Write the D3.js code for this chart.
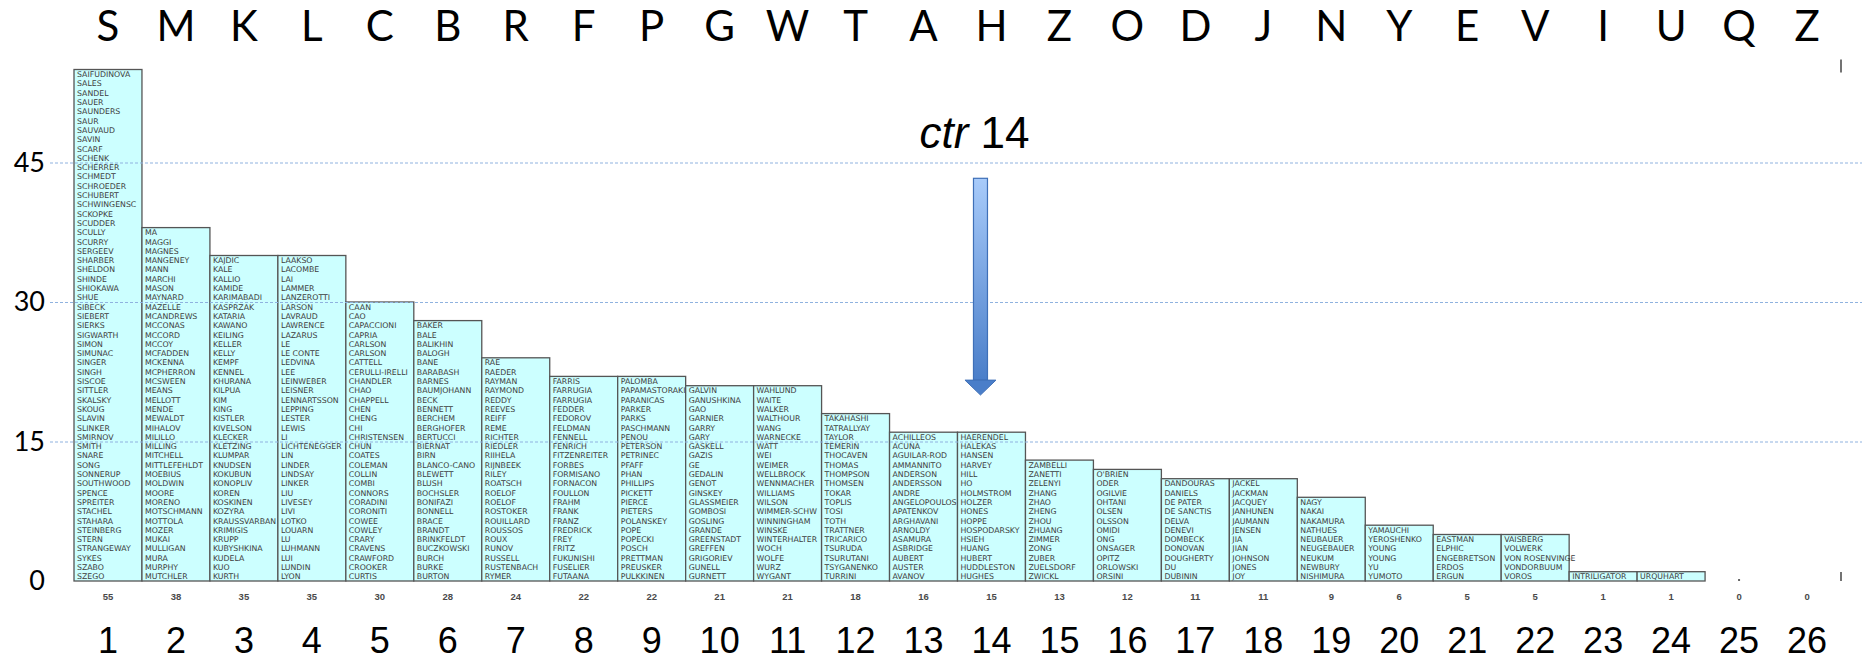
<!DOCTYPE html>
<html><head><meta charset="utf-8">
<script src="https://cdn.jsdelivr.net/npm/d3@7"></script>
<style>body{margin:0;background:#fff} svg{display:block}</style>
</head><body>
<svg id="chart" width="1862" height="660"></svg>
<script>
// ---------- data ----------
const letters = ["S","M","K","L","C","B","R","F","P","G","W","T","A","H","Z","O","D","J","N","Y","E","V","I","U","Q","Z"];
const positions = d3.range(1, 27);
const countLabels = [55,38,35,35,30,28,24,22,22,21,21,18,16,15,13,12,11,11,9,6,5,5,1,1,0,0];
const yTicks = [0, 15, 30, 45];

const namesS = ["SAIFUDINOVA","SALES","SANDEL","SAUER","SAUNDERS","SAUR","SAUVAUD","SAVIN","SCARF","SCHENK","SCHERRER","SCHMEDT","SCHROEDER","SCHUBERT","SCHWINGENSC","SCKOPKE","SCUDDER","SCULLY","SCURRY","SERGEEV","SHARBER","SHELDON","SHINDE","SHIOKAWA","SHUE","SIBECK","SIEBERT","SIERKS","SIGWARTH","SIMON","SIMUNAC","SINGER","SINGH","SISCOE","SITTLER","SKALSKY","SKOUG","SLAVIN","SLINKER","SMIRNOV","SMITH","SNARE","SONG","SONNERUP","SOUTHWOOD","SPENCE","SPREITER","STACHEL","STAHARA","STEINBERG","STERN","STRANGEWAY","SYKES","SZABO","SZEGO"];
const namesM = ["MA","MAGGI","MAGNES","MANGENEY","MANN","MARCHI","MASON","MAYNARD","MAZELLE","MCANDREWS","MCCONAS","MCCORD","MCCOY","MCFADDEN","MCKENNA","MCPHERRON","MCSWEEN","MEANS","MELLOTT","MENDE","MEWALDT","MIHALOV","MILILLO","MILLING","MITCHELL","MITTLEFEHLDT","MOEBIUS","MOLDWIN","MOORE","MORENO","MOTSCHMANN","MOTTOLA","MOZER","MUKAI","MULLIGAN","MURA","MURPHY","MUTCHLER"];
const namesK = ["KAJDIC","KALE","KALLIO","KAMIDE","KARIMABADI","KASPRZAK","KATARIA","KAWANO","KEILING","KELLER","KELLY","KEMPF","KENNEL","KHURANA","KILPUA","KIM","KING","KISTLER","KIVELSON","KLECKER","KLETZING","KLUMPAR","KNUDSEN","KOKUBUN","KONOPLIV","KOREN","KOSKINEN","KOZYRA","KRAUSSVARBAN","KRIMIGIS","KRUPP","KUBYSHKINA","KUDELA","KUO","KURTH"];
const namesL = ["LAAKSO","LACOMBE","LAI","LAMMER","LANZEROTTI","LARSON","LAVRAUD","LAWRENCE","LAZARUS","LE","LE CONTE","LEDVINA","LEE","LEINWEBER","LEISNER","LENNARTSSON","LEPPING","LESTER","LEWIS","LI","LICHTENEGGER","LIN","LINDER","LINDSAY","LINKER","LIU","LIVESEY","LIVI","LOTKO","LOUARN","LU","LUHMANN","LUI","LUNDIN","LYON"];
const namesC = ["CAAN","CAO","CAPACCIONI","CAPRIA","CARLSON","CARLSON","CATTELL","CERULLI-IRELLI","CHANDLER","CHAO","CHAPPELL","CHEN","CHENG","CHI","CHRISTENSEN","CHUN","COATES","COLEMAN","COLLIN","COMBI","CONNORS","CORADINI","CORONITI","COWEE","COWLEY","CRARY","CRAVENS","CRAWFORD","CROOKER","CURTIS"];
const namesB = ["BAKER","BALE","BALIKHIN","BALOGH","BANE","BARABASH","BARNES","BAUMJOHANN","BECK","BENNETT","BERCHEM","BERGHOFER","BERTUCCI","BIERNAT","BIRN","BLANCO-CANO","BLEWETT","BLUSH","BOCHSLER","BONIFAZI","BONNELL","BRACE","BRANDT","BRINKFELDT","BUCZKOWSKI","BURCH","BURKE","BURTON"];
const namesR = ["RAE","RAEDER","RAYMAN","RAYMOND","REDDY","REEVES","REIFF","REME","RICHTER","RIEDLER","RIIHELA","RIJNBEEK","RILEY","ROATSCH","ROELOF","ROELOF","ROSTOKER","ROUILLARD","ROUSSOS","ROUX","RUNOV","RUSSELL","RUSTENBACH","RYMER"];
const namesF = ["FARRIS","FARRUGIA","FARRUGIA","FEDDER","FEDOROV","FELDMAN","FENNELL","FENRICH","FITZENREITER","FORBES","FORMISANO","FORNACON","FOULLON","FRAHM","FRANK","FRANZ","FREDRICK","FREY","FRITZ","FUKUNISHI","FUSELIER","FUTAANA"];
const namesP = ["PALOMBA","PAPAMASTORAKI","PARANICAS","PARKER","PARKS","PASCHMANN","PENOU","PETERSON","PETRINEC","PFAFF","PHAN","PHILLIPS","PICKETT","PIERCE","PIETERS","POLANSKEY","POPE","POPECKI","POSCH","PRETTMAN","PREUSKER","PULKKINEN"];
const namesG = ["GALVIN","GANUSHKINA","GAO","GARNIER","GARRY","GARY","GASKELL","GAZIS","GE","GEDALIN","GENOT","GINSKEY","GLASSMEIER","GOMBOSI","GOSLING","GRANDE","GREENSTADT","GREFFEN","GRIGORIEV","GUNELL","GURNETT"];
const namesW = ["WAHLUND","WAITE","WALKER","WALTHOUR","WANG","WARNECKE","WATT","WEI","WEIMER","WELLBROCK","WENNMACHER","WILLIAMS","WILSON","WIMMER-SCHW","WINNINGHAM","WINSKE","WINTERHALTER","WOCH","WOLFE","WURZ","WYGANT"];
const namesT = ["TAKAHASHI","TATRALLYAY","TAYLOR","TEMERIN","THOCAVEN","THOMAS","THOMPSON","THOMSEN","TOKAR","TOPLIS","TOSI","TOTH","TRATTNER","TRICARICO","TSURUDA","TSURUTANI","TSYGANENKO","TURRINI"];
const namesA = ["ACHILLEOS","ACUNA","AGUILAR-ROD","AMMANNITO","ANDERSON","ANDERSSON","ANDRE","ANGELOPOULOS","APATENKOV","ARGHAVANI","ARNOLDY","ASAMURA","ASBRIDGE","AUBERT","AUSTER","AVANOV"];
const namesH = ["HAERENDEL","HALEKAS","HANSEN","HARVEY","HILL","HO","HOLMSTROM","HOLZER","HONES","HOPPE","HOSPODARSKY","HSIEH","HUANG","HUBERT","HUDDLESTON","HUGHES"];
const namesZ = ["ZAMBELLI","ZANETTI","ZELENYI","ZHANG","ZHAO","ZHENG","ZHOU","ZHUANG","ZIMMER","ZONG","ZUBER","ZUELSDORF","ZWICKL"];
const namesO = ["O'BRIEN","ODER","OGILVIE","OHTANI","OLSEN","OLSSON","OMIDI","ONG","ONSAGER","OPITZ","ORLOWSKI","ORSINI"];
const namesD = ["DANDOURAS","DANIELS","DE PATER","DE SANCTIS","DELVA","DENEVI","DOMBECK","DONOVAN","DOUGHERTY","DU","DUBININ"];
const namesJ = ["JACKEL","JACKMAN","JACQUEY","JANHUNEN","JAUMANN","JENSEN","JIA","JIAN","JOHNSON","JONES","JOY"];
const namesN = ["NAGY","NAKAI","NAKAMURA","NATHUES","NEUBAUER","NEUGEBAUER","NEUKUM","NEWBURY","NISHIMURA"];
const namesY = ["YAMAUCHI","YEROSHENKO","YOUNG","YOUNG","YU","YUMOTO"];
const namesE = ["EASTMAN","ELPHIC","ENGEBRETSON","ERDOS","ERGUN"];
const namesV = ["VAISBERG","VOLWERK","VON ROSENVINGE","VONDORBUUM","VOROS"];
const namesI = ["INTRILIGATOR"];
const namesU = ["URQUHART"];
const namesQ = [];
const namesX = [];

const annotationText = ["ctr", " 14"];
const arrowTarget = 14;   // column the arrow points at
const arrowTop = 43.3;    // value units
const arrowHeadStart = 21.6;
const arrowTip = 20;
const labelValue = 46.6;

// ---------- build ----------
const columns = [namesS,namesM,namesK,namesL,namesC,namesB,namesR,namesF,namesP,namesG,namesW,namesT,namesA,namesH,namesZ,namesO,namesD,namesJ,namesN,namesY,namesE,namesV,namesI,namesU,namesQ,namesX];
const table = positions.map((p, i) => ({pos: p, letter: letters[i], names: columns[i], n: columns[i].length, label: countLabels[i]}));

const svg = d3.select("#chart");
const x = d3.scaleBand().domain(positions).range([74, 1841]).padding(0);
const y = d3.scaleLinear().domain([0, 55]).range([581, 69.5]);
const bw = x.bandwidth();

// bars with names
const groups = svg.append("g").selectAll("g").data(table.filter(d => d.n > 0)).join("g");
groups.append("rect")
  .attr("x", d => x(d.pos)).attr("y", d => y(d.n))
  .attr("width", bw).attr("height", d => y(0) - y(d.n))
  .attr("fill", "#CCFFFF").attr("stroke", "#555").attr("stroke-width", 1.3);
groups.each(function(d) {
  d3.select(this).selectAll("text").data(d.names).join("text")
    .attr("x", x(d.pos) + 3)
    .attr("y", (nm, i) => (y(d.n - i) + y(d.n - i - 1)) / 2 + 0.5)
    .attr("dominant-baseline", "central")
    .attr("font-family", "DejaVu Sans, Verdana, sans-serif")
    .attr("font-size", 7.8)
    .attr("fill", "#3d3d3d")
    .text(nm => nm);
});

// gridlines (on top of bars)
const grid = svg.append("g").attr("transform", "translate(50,0)")
  .call(d3.axisLeft(y).tickValues(yTicks.filter(v => v > 0)).tickSize(-1812).tickFormat(""));
grid.select(".domain").remove();
grid.selectAll("line").attr("stroke", "#8fb2df").attr("stroke-width", 1).attr("stroke-dasharray", "3,2");

// y tick labels
const yAx = svg.append("g").attr("transform", "translate(45,0)")
  .call(d3.axisLeft(y).tickValues(yTicks).tickSize(0).tickPadding(0));
yAx.select(".domain").remove();
yAx.selectAll("text").attr("font-family", "Lato, 'Open Sans', sans-serif").attr("font-size", 27).attr("fill", "#000");

// top letters
const topAx = svg.append("g").attr("transform", "translate(0,41)")
  .call(d3.axisTop(x).tickSize(0).tickPadding(0).tickFormat((p, i) => letters[i]));
topAx.select(".domain").remove();
topAx.selectAll("text").attr("font-family", "Lato, 'Open Sans', sans-serif").attr("font-size", 42).attr("fill", "#000").attr("dy", 0);

// count labels
const cnt = svg.append("g").attr("transform", "translate(0,597)")
  .call(d3.axisBottom(x).tickSize(0).tickPadding(0).tickFormat((p, i) => countLabels[i]));
cnt.select(".domain").remove();
cnt.selectAll("text").attr("font-family", "Liberation Sans, Arial, sans-serif").attr("font-weight", "bold")
  .attr("font-size", 9.5).attr("fill", "#4a4a4a").attr("dy", "0.35em");

// bottom position numbers
const bot = svg.append("g").attr("transform", "translate(0,653)")
  .call(d3.axisBottom(x).tickSize(0).tickPadding(0));
bot.select(".domain").remove();
bot.selectAll("text").attr("font-family", "Liberation Sans, Arial, sans-serif").attr("font-size", 36).attr("fill", "#000").attr("dy", 0);

// right end ticks
const xEnd = x.range()[1];
svg.append("line").attr("x1", xEnd).attr("x2", xEnd)
  .attr("y1", y(0) - 9).attr("y2", y(0)).attr("stroke", "#444").attr("stroke-width", 1.5);
svg.append("line").attr("x1", xEnd).attr("x2", xEnd)
  .attr("y1", y(55) - 10).attr("y2", y(55) + 3).attr("stroke", "#444").attr("stroke-width", 1.5);
// tiny mark of the empty column 25
svg.append("rect").attr("x", x(25) + bw / 2 - 1).attr("y", y(0) - 2).attr("width", 2).attr("height", 2).attr("fill", "#666");

// arrow annotation
const defs = svg.append("defs");
const grad = defs.append("linearGradient").attr("id", "ag").attr("x1", 0).attr("x2", 0).attr("y1", 0).attr("y2", 1);
grad.append("stop").attr("offset", "0%").attr("stop-color", "#a8cbfa");
grad.append("stop").attr("offset", "100%").attr("stop-color", "#4a7ec9");
const ax = x(arrowTarget) + bw / 2 - 11;
svg.append("rect").attr("x", ax - 7).attr("y", y(arrowTop)).attr("width", 14)
  .attr("height", y(arrowHeadStart) - y(arrowTop))
  .attr("fill", "url(#ag)").attr("stroke", "#3f70b8").attr("stroke-width", 1.2);
svg.append("path")
  .attr("d", `M${ax - 15.5},${y(arrowHeadStart)} L${ax + 15.5},${y(arrowHeadStart)} L${ax},${y(arrowTip)} Z`)
  .attr("fill", "#4a7ec9").attr("stroke", "#3f70b8").attr("stroke-width", 1);
const lbl = svg.append("text").attr("x", ax - 6).attr("y", y(labelValue))
  .attr("text-anchor", "middle").attr("font-family", "Liberation Sans, Arial, sans-serif").attr("font-size", 44).attr("fill", "#000");
lbl.append("tspan").attr("font-style", "italic").text(annotationText[0]);
lbl.append("tspan").text(annotationText[1]);
</script>
</body></html>
